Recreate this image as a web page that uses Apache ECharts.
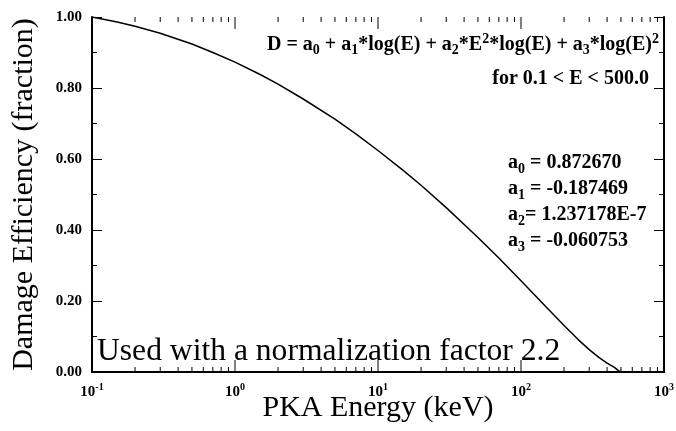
<!DOCTYPE html>
<html>
<head>
<meta charset="utf-8">
<script src="https://cdn.jsdelivr.net/npm/echarts@6/dist/echarts.min.js"></script>
<style>
  html, body { margin: 0; padding: 0; background: #fff; }
  #chart { width: 676px; height: 431px; }
</style>
</head>
<body>
<div id="chart"></div>
<script>
// PKA energy (keV) and damage efficiency
const energy = [0.1, 0.15, 0.2, 0.3, 0.5, 0.7, 1, 1.5, 2, 3, 5, 7, 10, 15, 20, 30, 50, 70, 100, 150, 200, 250, 300, 350, 400, 450, 480, 500, 700, 1000];
const efficiency = [1.0, 0.986, 0.974, 0.954, 0.924, 0.900, 0.873, 0.838, 0.811, 0.769, 0.712, 0.671, 0.624, 0.568, 0.526, 0.463, 0.379, 0.321, 0.257, 0.183, 0.131, 0.092, 0.063, 0.041, 0.025, 0.013, 0.004, 0.0, 0.0, 0.0];

// log-axis tick positions: decades and the 2..9 in between
const majorTicks = [1, 10, 100];
const minorTicks = [0.2, 0.3, 0.4, 0.5, 0.6, 0.7, 0.8, 0.9, 2, 3, 4, 5, 6, 7, 8, 9, 20, 30, 40, 50, 60, 70, 80, 90, 200, 300, 400, 500, 600, 700, 800, 900];

const SERIF = "'Liberation Serif', 'DejaVu Serif', serif";

const chart = echarts.init(document.getElementById("chart"));

const rich = {
  t: { fontFamily: SERIF, fontSize: 20, fontWeight: "bold", color: "#000" },
  sb: { fontFamily: SERIF, fontSize: 14, fontWeight: "bold", color: "#000", padding: [12, 0, 0, 0] },
  sp: { fontFamily: SERIF, fontSize: 14, fontWeight: "bold", color: "#000", padding: [0, 0, 11, 0] },
};

const tickData = majorTicks.map((v) => [v, 0, 12]).concat(minorTicks.map((v) => [v, 0, 5]));

const option = {
  backgroundColor: "#fff",
  animation: false,
  grid: { left: 92, right: 12, top: 17, bottom: 59, outerBoundsMode: "none" },
  xAxis: [
    {
      type: "log",
      logBase: 10,
      min: 0.1,
      max: 1000,
      position: "bottom",
      name: "PKA Energy (keV)",
      nameLocation: "middle",
      nameGap: 21,
      nameMoveOverlap: false,
      nameTextStyle: { fontFamily: SERIF, fontSize: 30, color: "#000" },
      axisLine: { lineStyle: { color: "#000", width: 2 } },
      axisTick: { show: false },
      splitLine: { show: false },
      axisLabel: {
        margin: 10,
        formatter: function (v) {
          const e = Math.round(Math.log10(v));
          return "{b|10}{s|" + e + "}";
        },
        rich: {
          b: { fontFamily: SERIF, fontSize: 15, fontWeight: "bold", color: "#000" },
          s: { fontFamily: SERIF, fontSize: 10, fontWeight: "bold", color: "#000", padding: [0, 0, 11, 0] },
        },
      },
    },
    {
      type: "log",
      logBase: 10,
      min: 0.1,
      max: 1000,
      position: "top",
      axisLine: { lineStyle: { color: "#000", width: 2 } },
      axisTick: { show: false },
      axisLabel: { show: false },
      splitLine: { show: false },
    },
  ],
  yAxis: [
    {
      type: "value",
      min: 0,
      max: 1,
      interval: 0.2,
      name: "Damage Efficiency (fraction)",
      nameLocation: "middle",
      nameGap: 53,
      nameTextStyle: { fontFamily: SERIF, fontSize: 30, color: "#000" },
      axisLine: { show: true, lineStyle: { color: "#000", width: 2 } },
      axisTick: { show: true, inside: true, length: 10, lineStyle: { color: "#000" } },
      minorTick: { show: true, splitNumber: 2, length: 5, lineStyle: { color: "#000" } },
      splitLine: { show: false },
      axisLabel: {
        margin: 10,
        formatter: (v) => v.toFixed(2),
        fontFamily: SERIF,
        fontSize: 15,
        fontWeight: "bold",
        color: "#000",
      },
    },
    {
      type: "value",
      min: 0,
      max: 1,
      interval: 0.2,
      position: "right",
      axisLine: { show: true, lineStyle: { color: "#000", width: 2 } },
      axisTick: { show: true, inside: true, length: 10, lineStyle: { color: "#000" } },
      minorTick: { show: true, splitNumber: 2, length: 5, lineStyle: { color: "#000" } },
      splitLine: { show: false },
      axisLabel: { show: false },
    },
  ],
  series: [
    {
      type: "line",
      data: energy.map((e, i) => [e, efficiency[i]]),
      showSymbol: false,
      smooth: false,
      lineStyle: { color: "#000", width: 1.5 },
      silent: true,
    },
    {
      // ticks of the log axes, bottom and top
      type: "custom",
      silent: true,
      clip: false,
      renderItem: function (params, api) {
        const bot = api.coord([api.value(0), 0]);
        const top = api.coord([api.value(0), 1]);
        const len = api.value(2);
        const st = { stroke: "#000", lineWidth: 1 };
        return {
          type: "group",
          children: [
            { type: "line", shape: { x1: bot[0], y1: bot[1], x2: bot[0], y2: bot[1] - len }, style: st },
            { type: "line", shape: { x1: top[0], y1: top[1], x2: top[0], y2: top[1] + len }, style: st },
          ],
        };
      },
      data: tickData,
    },
  ],
  graphic: [
    {
      type: "text",
      right: 17,
      top: 32,
      style: {
        text: "{t|D = a}{sb|0}{t| + a}{sb|1}{t|*log(E) + a}{sb|2}{t|*E}{sp|2}{t|*log(E) + a}{sb|3}{t|*log(E)}{sp|2}",
        rich: rich,
      },
    },
    {
      type: "text",
      right: 27,
      top: 69,
      style: { text: "for 0.1 < E < 500.0", fontFamily: SERIF, fontSize: 20, fontWeight: "bold", fill: "#000" },
    },
    {
      type: "text",
      left: 508,
      top: 150,
      style: {
        text: "{t|a}{sb|0}{t| = 0.872670}\n{t|a}{sb|1}{t| = -0.187469}\n{t|a}{sb|2}{t|= 1.237178E-7}\n{t|a}{sb|3}{t| = -0.060753}",
        rich: {
          t: { fontFamily: SERIF, fontSize: 20, fontWeight: "bold", color: "#000", lineHeight: 26 },
          sb: { fontFamily: SERIF, fontSize: 14, fontWeight: "bold", color: "#000", padding: [12, 0, 0, 0], lineHeight: 26 },
        },
      },
    },
    {
      type: "text",
      left: 97,
      top: 336,
      style: { text: "Used with a normalization factor 2.2", fontFamily: SERIF, fontSize: 31.6, fill: "#000" },
    },
  ],
};

chart.setOption(option);
</script>
</body>
</html>
